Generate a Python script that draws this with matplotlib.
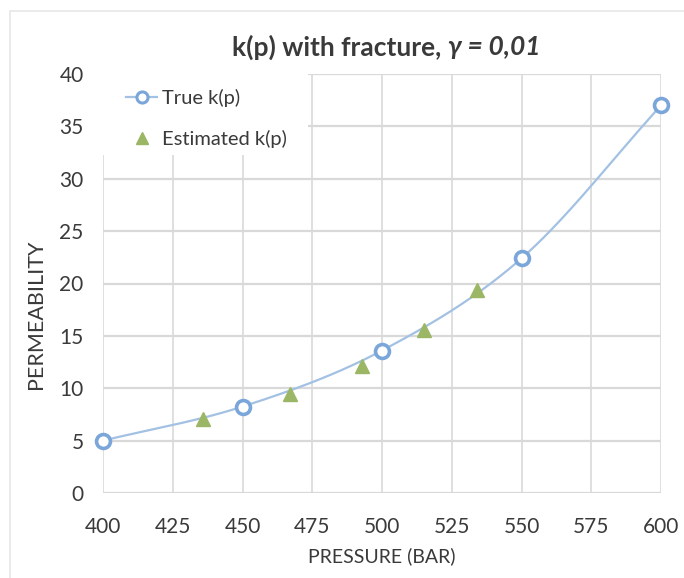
import numpy as np
import matplotlib
matplotlib.use("Agg")
import matplotlib.pyplot as plt
from matplotlib.patches import Rectangle
from matplotlib.lines import Line2D

plt.rcParams['font.family'] = ['Lato', 'DejaVu Sans']

# Data
true_p = [400, 450, 500, 550, 600]
true_k = [5.0, 8.25, 13.6, 22.4, 37.0]
est_p = [436, 467, 493, 515, 534]
est_k = [7.05, 9.45, 12.15, 15.6, 19.4]
x_ticks = [400, 425, 450, 475, 500, 525, 550, 575, 600]
y_ticks = [0, 5, 10, 15, 20, 25, 30, 35, 40]

LINE_BLUE = '#a3c1e3'
MARK_BLUE = '#7aa6d9'
TRI_GREEN = '#9bb765'
GRID = '#d9d9d9'
TEXT = '#3a3a3a'

W, H = 684, 578


def smooth_path(xs, ys, xr, yr, n=40):
    """Catmull-Rom smoothing (a spreadsheet-style 'smoothed line'), computed in
    axis-normalised space so the curve shape does not depend on units."""
    px = (np.asarray(xs, float) - xr[0]) / (xr[1] - xr[0])
    py = (np.asarray(ys, float) - yr[0]) / (yr[1] - yr[0])
    P = np.column_stack([px, py])
    P = np.vstack([2 * P[0] - P[1], P, 2 * P[-1] - P[-2]])
    out = []
    t = np.linspace(0, 1, n)[:, None]
    for i in range(1, len(P) - 2):
        p0, p1, p2, p3 = P[i - 1], P[i], P[i + 1], P[i + 2]
        seg = 0.5 * (2 * p1
                     + (-p0 + p2) * t
                     + (2 * p0 - 5 * p1 + 4 * p2 - p3) * t ** 2
                     + (-p0 + 3 * p1 - 3 * p2 + p3) * t ** 3)
        out.append(seg if i == 1 else seg[1:])
    S = np.vstack(out)
    return S[:, 0] * (xr[1] - xr[0]) + xr[0], S[:, 1] * (yr[1] - yr[0]) + yr[0]


fig = plt.figure(figsize=(W / 100, H / 100), dpi=100)

# chart-area frame
fig.patches.append(Rectangle((10 / W, -0.1), 1.2, 1 - 11 / H + 0.1,
                             transform=fig.transFigure, fill=False,
                             edgecolor='#e6e6e6', linewidth=1.2, zorder=0))

L, R, T, B = 103, 661, 74, 493
ax = fig.add_axes([L / W, 1 - B / H, (R - L) / W, (B - T) / H])
xr, yr = (400, 600), (0, 40)
ax.set_xlim(*xr)
ax.set_ylim(*yr)
ax.set_xticks(x_ticks)
ax.set_yticks(y_ticks)
ax.tick_params(length=0, labelsize=15, colors=TEXT)
ax.tick_params(axis='y', pad=14)
ax.tick_params(axis='x', pad=17)
for s in ax.spines.values():
    s.set_visible(False)
ax.grid(True, axis='x', color=GRID, linewidth=1.2)
ax.grid(True, axis='y', color=GRID, linewidth=1.6)
ax.set_axisbelow(True)

sx, sy = smooth_path(true_p, true_k, xr, yr)
ax.plot(sx, sy, color=LINE_BLUE, linewidth=1.6, zorder=2, clip_on=False)
ax.plot(true_p, true_k, linestyle='none', marker='o', markersize=10,
        markerfacecolor='white', markeredgecolor=MARK_BLUE,
        markeredgewidth=2.6, zorder=4, clip_on=False)
ax.plot(est_p, est_k, linestyle='none', marker='^', markersize=10,
        color=TRI_GREEN, zorder=3, clip_on=False)

# legend background (hides the gridlines behind the legend)
ax.add_patch(Rectangle((0, (B - 155) / (B - T)), (308 - L) / (R - L),
                       1 - (B - 155) / (B - T), transform=ax.transAxes,
                       facecolor='white', edgecolor='none', zorder=1.5))

handles = [
    Line2D([], [], color=LINE_BLUE, linewidth=1.6, marker='o', markersize=8,
           markerfacecolor='white', markeredgecolor=MARK_BLUE, markeredgewidth=2.2),
    Line2D([], [], linestyle='none', marker='^', markersize=9, color=TRI_GREEN),
]
leg = ax.legend(handles, ['True k(p)', 'Estimated k(p)'], loc='upper left',
                bbox_to_anchor=((126 - L) / (R - L), (B - 89) / (B - T)),
                frameon=False, fontsize=14.5,
                handlelength=1.55, handletextpad=0.25, labelspacing=1.15,
                borderpad=0.0, borderaxespad=0.0, labelcolor=TEXT)
leg.set_zorder(5)

ax.set_xlabel('PRESSURE (BAR)', fontsize=14, color=TEXT, labelpad=8)
ax.set_ylabel('PERMEABILITY', fontsize=15.5, color=TEXT, labelpad=9)
ax.yaxis.set_label_coords(ax.yaxis.label.get_position()[0], (B - 314) / (B - T))
ax.yaxis.label.set_va('bottom')
fig.canvas.draw()
# place the y-axis title by its centre in figure pixels
ax.yaxis.set_label_coords(-(L - 46) / (R - L), (B - 314) / (B - T))

# title composed of upright and italic parts, centred as one line
t1 = fig.text(0, 0, 'k(p) with fracture, ', fontsize=19, fontweight='bold', color=TEXT)
t2 = fig.text(0, 0, 'γ = 0,01', fontsize=19, fontweight='bold', style='italic', color=TEXT)
fig.canvas.draw()
r = fig.canvas.get_renderer()
w1 = t1.get_window_extent(r).width
w2 = t2.get_window_extent(r).width
cx = 386
x0 = cx - (w1 + w2) / 2
y = H - 45
t1.set_position((x0 / W, y / H)); t1.set_va('center_baseline')
t2.set_position(((x0 + w1) / W, y / H)); t2.set_va('center_baseline')

fig.savefig('out.png', dpi=100, facecolor='white')
